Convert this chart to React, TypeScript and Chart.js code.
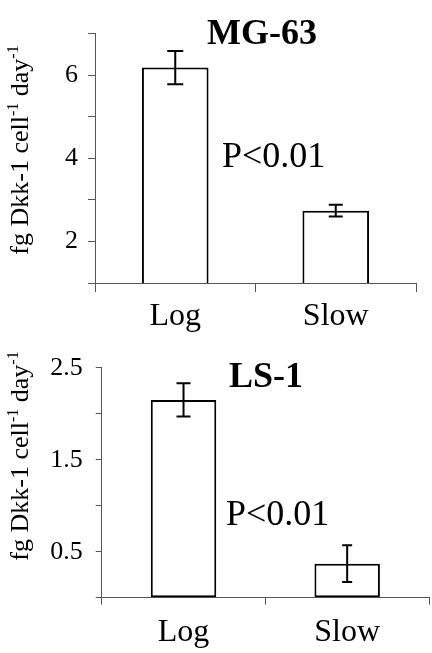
import React, { useEffect, useRef } from "react";
import { Chart, registerables } from "chart.js";

Chart.register(...registerables);

const categories = ["Log", "Slow"];
const mg63Values = [6.18, 2.74];
const mg63Errors = [0.4, 0.14];
const ls1Values = [2.15, 0.37];
const ls1Errors = [0.18, 0.2];
const mg63TickLabels = [2, 4, 6];
const ls1TickLabels = [0.5, 1.5, 2.5];

const FONT = "'Liberation Serif', 'Times New Roman', serif";
const AXIS = "#555";

type Panel = {
  title: string;
  values: number[];
  errors: number[];
  tickLabels: number[];
  min: number;
  max: number;
  step: number;
  top: number;
  height: number;
  yWidth: number;
  xHeight: number;
  padTop: number;
  padRight: number;
  barPct: number;
  yTickLen: number;
  yPad: number;
  xTickLen: number;
  xPad: number;
  titlePos: [number, number];
  pPos: [number, number];
  yLabelPos: [number, number];
  capHalf: number[];
};

const panels: Panel[] = [
  {
    title: "MG-63",
    values: mg63Values,
    errors: mg63Errors,
    tickLabels: mg63TickLabels,
    min: 1,
    max: 7,
    step: 1,
    top: 0,
    height: 345,
    yWidth: 95,
    xHeight: 62,
    padTop: 33.5,
    padRight: 16,
    barPct: 0.415,
    yTickLen: 7,
    yPad: 10,
    xTickLen: 9,
    xPad: 5,
    titlePos: [262, 44],
    pPos: [222, 167],
    yLabelPos: [28, 150],
    capHalf: [8, 7],
  },
  {
    title: "LS-1",
    values: ls1Values,
    errors: ls1Errors,
    tickLabels: ls1TickLabels,
    min: 0,
    max: 2.5,
    step: 0.5,
    top: 330,
    height: 323,
    yWidth: 101.7,
    xHeight: 55.3,
    padTop: 37.7,
    padRight: 3,
    barPct: 0.4,
    yTickLen: 6,
    yPad: 13,
    xTickLen: 7,
    xPad: 9,
    titlePos: [266, 56.5],
    pPos: [226, 195],
    yLabelPos: [28, 126],
    capHalf: [7, 5],
  },
];

function makeOverlay(p: Panel) {
  return {
    id: "overlay",
    afterDatasetsDraw(chart: any) {
      const ctx: CanvasRenderingContext2D = chart.ctx;
      const y = chart.scales.y;
      const meta = chart.getDatasetMeta(0);
      ctx.save();
      ctx.strokeStyle = "#000";
      ctx.lineWidth = 2;
      p.values.forEach((v, i) => {
        const bar = meta.data[i];
        const x = bar.x;
        const yt = y.getPixelForValue(v + p.errors[i]);
        const yb = y.getPixelForValue(v - p.errors[i]);
        const h = p.capHalf[i];
        ctx.beginPath();
        ctx.moveTo(x, yt);
        ctx.lineTo(x, yb);
        ctx.moveTo(x - h, yt);
        ctx.lineTo(x + h, yt);
        ctx.moveTo(x - h, yb);
        ctx.lineTo(x + h, yb);
        ctx.stroke();
      });
      ctx.restore();
    },
    afterDraw(chart: any) {
      const ctx: CanvasRenderingContext2D = chart.ctx;
      ctx.save();
      ctx.fillStyle = "#000";
      ctx.textBaseline = "alphabetic";
      ctx.font = `bold 36px ${FONT}`;
      ctx.textAlign = "center";
      ctx.fillText(p.title, p.titlePos[0], p.titlePos[1]);
      ctx.font = `36px ${FONT}`;
      ctx.textAlign = "left";
      ctx.fillText("P<0.01", p.pPos[0], p.pPos[1]);
      const parts: [string, boolean][] = [
        ["fg Dkk-1 cell", false],
        ["-1", true],
        [" day", false],
        ["-1", true],
      ];
      const fontFor = (sup: boolean) => (sup ? `16px ${FONT}` : `26px ${FONT}`);
      let total = 0;
      parts.forEach(([t, s]) => {
        ctx.font = fontFor(s);
        total += ctx.measureText(t).width;
      });
      ctx.translate(p.yLabelPos[0], p.yLabelPos[1]);
      ctx.rotate(-Math.PI / 2);
      let cx = -total / 2;
      parts.forEach(([t, s]) => {
        ctx.font = fontFor(s);
        ctx.fillText(t, cx, s ? -10 : 0);
        cx += ctx.measureText(t).width;
      });
      ctx.restore();
    },
  };
}

function PanelChart({ p }: { p: Panel }) {
  const ref = useRef<HTMLCanvasElement | null>(null);
  useEffect(() => {
    if (!ref.current) return;
    const chart = new Chart(ref.current, {
      type: "bar",
      data: {
        labels: categories,
        datasets: [
          {
            data: p.values,
            backgroundColor: "#fff",
            borderColor: "#000",
            borderWidth: 2,
            borderSkipped: false,
            categoryPercentage: 1,
            barPercentage: p.barPct,
          },
        ],
      },
      options: {
        animation: false,
        responsive: false,
        devicePixelRatio: 1,
        layout: { padding: { top: p.padTop, right: p.padRight, left: 0, bottom: 0 } },
        plugins: { legend: { display: false }, tooltip: { enabled: false }, title: { display: false } },
        scales: {
          x: {
            offset: true,
            grid: {
              display: true,
              offset: true,
              drawOnChartArea: false,
              drawTicks: true,
              tickLength: p.xTickLen,
              color: AXIS,
              lineWidth: 1,
            },
            border: { display: true, color: AXIS, width: 1 },
            ticks: { color: "#000", font: { family: FONT, size: 32 }, padding: p.xPad },
            afterFit: (s: any) => {
              s.height = p.xHeight;
            },
          },
          y: {
            min: p.min,
            max: p.max,
            grid: {
              display: true,
              drawOnChartArea: false,
              drawTicks: true,
              tickLength: p.yTickLen,
              color: AXIS,
              lineWidth: 1,
            },
            border: { display: true, color: AXIS, width: 1 },
            ticks: {
              stepSize: p.step,
              color: "#000",
              font: { family: FONT, size: 26 },
              padding: p.yPad,
              callback: (v: any) => {
                const n = Number(v);
                return p.tickLabels.some((t) => Math.abs(t - n) < 1e-6) ? String(n) : "";
              },
            },
            afterFit: (s: any) => {
              s.width = p.yWidth;
            },
          },
        },
      },
      plugins: [makeOverlay(p)],
    } as any);
    return () => chart.destroy();
  }, [p]);
  return (
    <canvas
      ref={ref}
      width={432}
      height={p.height}
      style={{ position: "absolute", left: 0, top: p.top, display: "block", width: 432, height: p.height }}
    />
  );
}

export default function App() {
  return (
    <div style={{ position: "absolute", left: 0, top: 0, width: 432, height: 653, background: "#fff", overflow: "hidden" }}>
      {panels.map((p) => (
        <PanelChart key={p.title} p={p} />
      ))}
    </div>
  );
}
